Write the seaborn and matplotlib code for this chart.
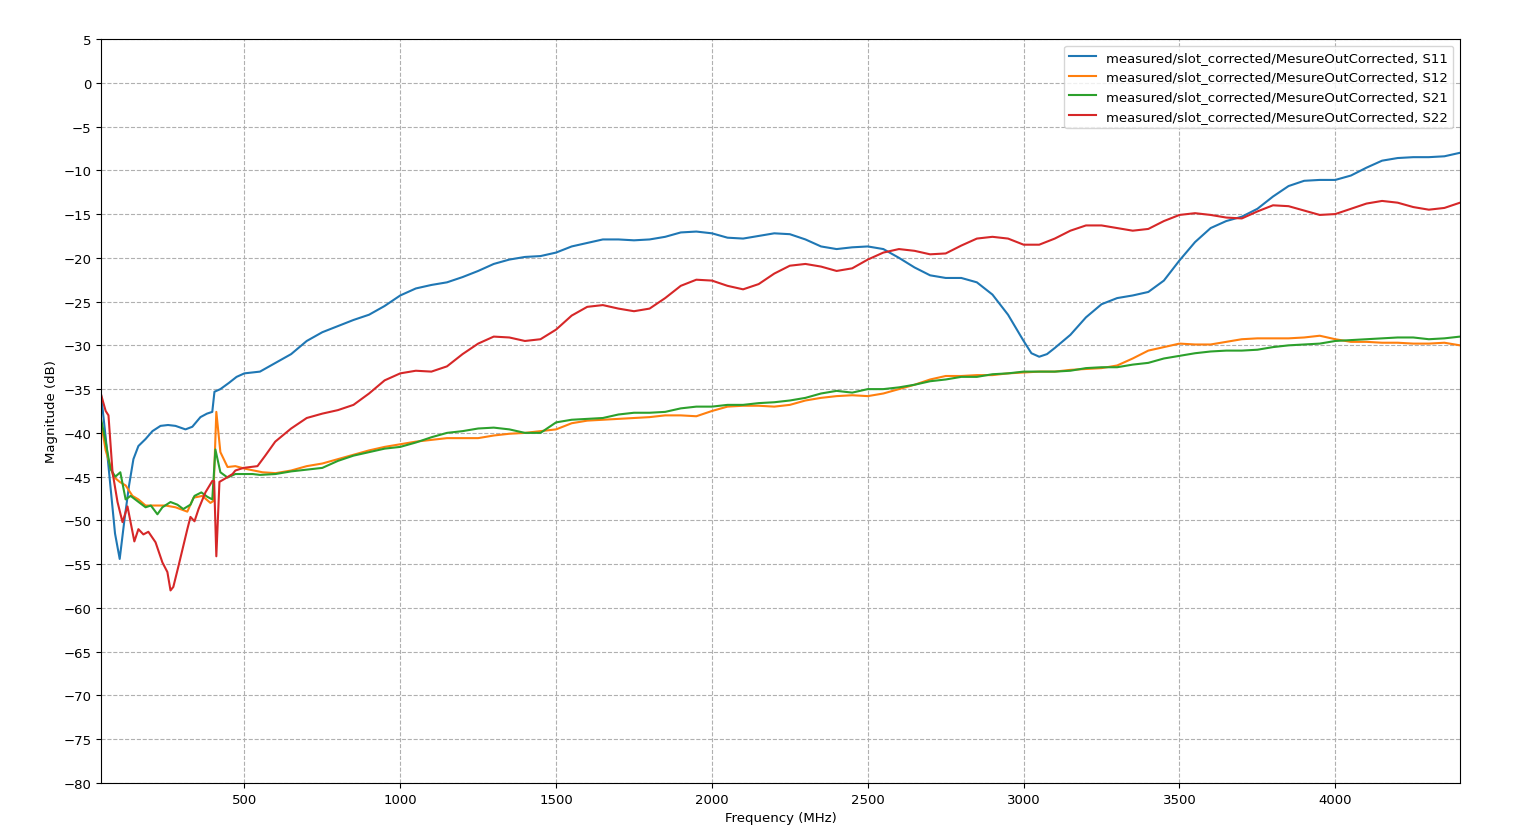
import matplotlib
matplotlib.use("Agg")
import matplotlib.pyplot as plt
import seaborn as sns
import pandas as pd

# ---- data ----
s11_f = [40, 55, 70, 85, 100, 115, 130, 144, 160, 183, 205, 231, 255, 279, 311, 333, 359, 380, 397, 404, 423, 450, 475,
         500, 550, 600, 650, 700, 750, 800, 850, 900, 950, 1000, 1050, 1100, 1150, 1200, 1250, 1300, 1350, 1400,
         1450, 1500, 1550, 1600, 1650, 1700, 1750, 1800, 1850, 1900, 1950, 2000, 2050, 2100, 2150, 2200, 2250,
         2300, 2350, 2400, 2450, 2500, 2550, 2600, 2650, 2700, 2750, 2800, 2850, 2900, 2950, 3000, 3025, 3050,
         3075, 3100, 3150, 3200, 3250, 3300, 3350, 3400, 3450, 3500, 3550, 3600, 3650, 3700, 3750, 3800, 3850,
         3900, 3950, 4000, 4050, 4100, 4150, 4200, 4250, 4300, 4350, 4400]
s11_v = [-35.6, -40.5, -46.0, -51.5, -54.4, -50.0, -46.0, -43.0, -41.5, -40.7, -39.8, -39.2, -39.1, -39.2, -39.6, -39.3,
         -38.2, -37.8, -37.6, -35.3, -35.0, -34.3, -33.6,
         -33.2, -33.0, -32.0, -31.0, -29.5, -28.5, -27.8, -27.1, -26.5, -25.5, -24.3, -23.5, -23.1, -22.8, -22.2,
         -21.5, -20.7, -20.2, -19.9, -19.8, -19.4, -18.7, -18.3, -17.9, -17.9, -18.0, -17.9, -17.6, -17.1, -17.0,
         -17.2, -17.7, -17.8, -17.5, -17.2, -17.3, -17.9, -18.7, -19.0, -18.8, -18.7, -19.0, -20.0, -21.1, -22.0,
         -22.3, -22.3, -22.8, -24.2, -26.5, -29.5, -30.9, -31.3, -31.0, -30.3, -28.8, -26.8, -25.3, -24.6, -24.3,
         -23.9, -22.6, -20.3, -18.2, -16.6, -15.8, -15.3, -14.4, -13.0, -11.8, -11.2, -11.1, -11.1, -10.6, -9.7,
         -8.9, -8.6, -8.5, -8.5, -8.4, -8.0]

s12_f = [40, 55, 80, 100, 119, 141, 160, 183, 208, 247, 279, 317, 337, 365, 391, 400, 410, 423, 446, 471, 503, 558,
         600, 650, 700, 750, 800, 850, 900, 950, 1000, 1050, 1100, 1150, 1200, 1250, 1300, 1350, 1400, 1450, 1500,
         1550, 1600, 1650, 1700, 1750, 1800, 1850, 1900, 1950, 2000, 2050, 2100, 2150, 2200, 2250, 2300, 2350,
         2400, 2450, 2500, 2550, 2600, 2650, 2700, 2750, 2800, 2850, 2900, 2950, 3000, 3050, 3100, 3150, 3200,
         3250, 3300, 3350, 3400, 3450, 3500, 3550, 3600, 3650, 3700, 3750, 3800, 3850, 3900, 3950, 4000, 4050,
         4100, 4150, 4200, 4250, 4300, 4350, 4400]
s12_v = [-38.8, -42.0, -45.0, -45.6, -46.0, -47.2, -47.6, -48.3, -48.3, -48.3, -48.5, -49.0, -47.4, -47.2, -48.0,
         -47.8, -37.6, -42.2, -43.9, -43.8, -44.1, -44.5,
         -44.6, -44.3, -43.8, -43.5, -43.0, -42.5, -42.0, -41.6, -41.3, -41.0, -40.8, -40.6, -40.6, -40.6, -40.3,
         -40.1, -40.0, -39.8, -39.6, -38.9, -38.6, -38.5, -38.4, -38.3, -38.2, -38.0, -38.0, -38.1, -37.5, -37.0,
         -36.9, -36.9, -37.0, -36.8, -36.3, -36.0, -35.8, -35.7, -35.8, -35.5, -35.0, -34.5, -33.9, -33.5, -33.5,
         -33.4, -33.4, -33.2, -33.1, -33.0, -33.0, -32.8, -32.7, -32.6, -32.3, -31.5, -30.6, -30.2, -29.8, -29.9,
         -29.9, -29.6, -29.3, -29.2, -29.2, -29.2, -29.1, -28.9, -29.3, -29.6, -29.6, -29.7, -29.7, -29.8, -29.8,
         -29.7, -30.0]

s21_f = [40, 55, 70, 86, 102, 119, 135, 157, 183, 200, 221, 237, 263, 285, 304, 327, 340, 362, 381, 397, 407, 423,
         446, 471, 526, 550, 600, 650, 700, 750, 800, 850, 900, 950, 1000, 1050, 1100, 1150, 1200, 1250, 1300,
         1350, 1400, 1450, 1500, 1550, 1600, 1650, 1700, 1750, 1800, 1850, 1900, 1950, 2000, 2050, 2100, 2150,
         2200, 2250, 2300, 2350, 2400, 2450, 2500, 2550, 2600, 2650, 2700, 2750, 2800, 2850, 2900, 2950, 3000,
         3050, 3100, 3150, 3200, 3250, 3300, 3350, 3400, 3450, 3500, 3550, 3600, 3650, 3700, 3750, 3800, 3850,
         3900, 3950, 4000, 4050, 4100, 4150, 4200, 4250, 4300, 4350, 4400]
s21_v = [-38.4, -41.0, -44.1, -45.0, -44.5, -47.6, -47.2, -47.8, -48.5, -48.3, -49.3, -48.5, -47.9, -48.2, -48.7,
         -48.2, -47.2, -46.8, -47.3, -47.6, -41.9, -44.5, -45.1, -44.7, -44.7,
         -44.8, -44.7, -44.4, -44.2, -44.0, -43.2, -42.6, -42.2, -41.8, -41.6, -41.1, -40.5, -40.0, -39.8, -39.5,
         -39.4, -39.6, -40.0, -40.0, -38.8, -38.5, -38.4, -38.3, -37.9, -37.7, -37.7, -37.6, -37.2, -37.0, -37.0,
         -36.8, -36.8, -36.6, -36.5, -36.3, -36.0, -35.5, -35.2, -35.4, -35.0, -35.0, -34.8, -34.5, -34.1, -33.9,
         -33.6, -33.6, -33.3, -33.2, -33.0, -33.0, -33.0, -32.9, -32.6, -32.5, -32.5, -32.2, -32.0, -31.5, -31.2,
         -30.9, -30.7, -30.6, -30.6, -30.5, -30.2, -30.0, -29.9, -29.8, -29.5, -29.4, -29.3, -29.2, -29.1, -29.1,
         -29.3, -29.2, -29.0]

s22_f = [40, 55, 64, 77, 93, 109, 125, 147, 160, 176, 192, 215, 237, 253, 263, 272, 288, 317, 327, 340, 353, 375,
         397, 403, 410, 420, 439, 462, 471, 497, 542, 567, 599, 650, 700, 750, 800, 850, 900, 950, 1000, 1050,
         1100, 1150, 1200, 1250, 1300, 1350, 1400, 1450, 1500, 1550, 1600, 1650, 1700, 1750, 1800, 1850, 1900,
         1950, 2000, 2050, 2100, 2150, 2200, 2250, 2300, 2350, 2400, 2450, 2500, 2550, 2600, 2650, 2700, 2750,
         2800, 2850, 2900, 2950, 3000, 3050, 3100, 3150, 3200, 3250, 3300, 3350, 3400, 3450, 3500, 3550, 3600,
         3650, 3700, 3750, 3800, 3850, 3900, 3950, 4000, 4050, 4100, 4150, 4200, 4250, 4300, 4350, 4400]
s22_v = [-35.6, -37.5, -38.0, -44.5, -47.9, -50.2, -48.4, -52.4, -51.0, -51.6, -51.3, -52.5, -54.8, -55.9, -58.0,
         -57.6, -55.3, -51.0, -49.6, -50.1, -48.7, -46.8, -45.5, -45.5, -54.1, -45.6, -45.2, -44.7, -44.3, -44.0,
         -43.8, -42.6, -41.0, -39.5, -38.3, -37.8, -37.4, -36.8, -35.5, -34.0, -33.2, -32.9, -33.0, -32.4, -31.0,
         -29.8, -29.0, -29.1, -29.5, -29.3, -28.2, -26.6, -25.6, -25.4, -25.8, -26.1, -25.8, -24.6, -23.2, -22.5,
         -22.6, -23.2, -23.6, -23.0, -21.8, -20.9, -20.7, -21.0, -21.5, -21.2, -20.2, -19.4, -19.0, -19.2, -19.6,
         -19.5, -18.6, -17.8, -17.6, -17.8, -18.5, -18.5, -17.8, -16.9, -16.3, -16.3, -16.6, -16.9, -16.7, -15.8,
         -15.1, -14.9, -15.1, -15.4, -15.5, -14.7, -14.0, -14.1, -14.6, -15.1, -15.0, -14.4, -13.8, -13.5, -13.7,
         -14.2, -14.5, -14.3, -13.7]

prefix = "measured/slot_corrected/MesureOutCorrected, "
series = [("S11", s11_f, s11_v), ("S12", s12_f, s12_v), ("S21", s21_f, s21_v), ("S22", s22_f, s22_v)]

rows = []
for name, fs, vs in series:
    for f, v in zip(fs, vs):
        rows.append({"Frequency (MHz)": f, "Magnitude (dB)": v, "trace": prefix + name})
df = pd.DataFrame(rows)

plt.rcParams["font.family"] = ["DejaVu Sans"]
fs_txt = 9.5
fig = plt.figure(figsize=(15.15, 8.37), dpi=100)
ax = fig.add_axes([101 / 1515, 1 - 784 / 837, (1460 - 101) / 1515, (784 - 40) / 837])

palette = ["#1f77b4", "#ff7f0e", "#2ca02c", "#d62728"]
sns.lineplot(data=df, x="Frequency (MHz)", y="Magnitude (dB)", hue="trace", palette=palette,
             linewidth=1.5, ax=ax, estimator=None)

ax.set_xlim(40, 4400)
ax.set_ylim(-80, 5)
ax.set_xticks([500, 1000, 1500, 2000, 2500, 3000, 3500, 4000])
ax.set_yticks(list(range(-80, 6, 5)))
ax.grid(True, linestyle="--", color="#b0b0b0", linewidth=0.8)
ax.tick_params(labelsize=fs_txt)
ax.set_xlabel("Frequency (MHz)", fontsize=fs_txt)
ax.set_ylabel("Magnitude (dB)", fontsize=fs_txt)
leg = ax.legend(loc="upper right", fontsize=fs_txt, title=None)

fig.savefig("out.png", dpi=100)
